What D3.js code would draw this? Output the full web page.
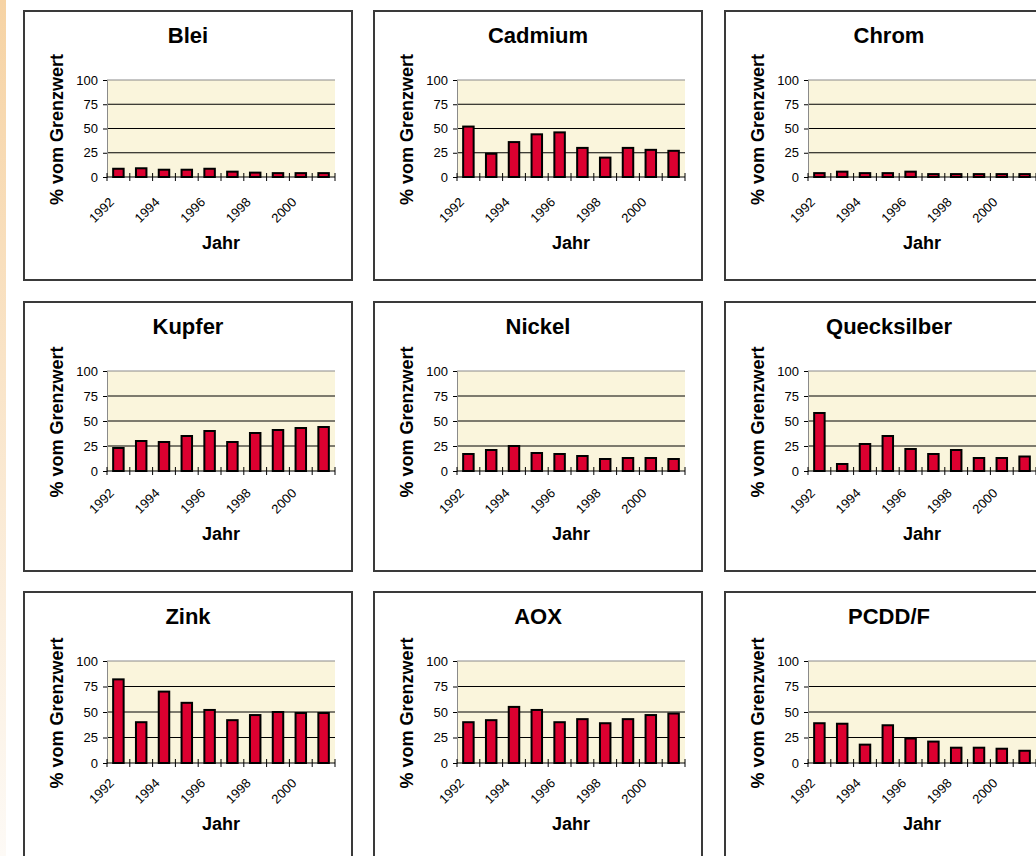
<!DOCTYPE html>
<html>
<head>
<meta charset="utf-8">
<script src="https://cdn.jsdelivr.net/npm/d3@7"></script>
<style>
  body { margin: 0; background: #fff; }
  svg { display: block; font-family: "Liberation Sans", Arial, sans-serif; }
</style>
</head>
<body>
<svg id="chart" width="1036" height="856"></svg>
<script>
// years on the x axis, only every other one gets a label
const YEARS = [1992, 1993, 1994, 1995, 1996, 1997, 1998, 1999, 2000, 2001];
const YEAR_LABELS = [1992, 1994, 1996, 1998, 2000];
const Y_TICKS = [0, 25, 50, 75, 100];

const TITLES = ['Blei', 'Cadmium', 'Chrom', 'Kupfer', 'Nickel', 'Quecksilber', 'Zink', 'AOX', 'PCDD/F'];

// % vom Grenzwert
const blei = [8.5, 9, 7.5, 7.5, 8.5, 5.5, 4.5, 4, 4, 4];
const cadmium = [52, 24, 36, 44, 46, 30, 20, 30, 28, 27];
const chrom = [4, 5.5, 4, 4, 5.5, 3, 3, 3, 3, 3];
const kupfer = [23, 30, 29, 35, 40, 29, 38, 41, 43, 44];
const nickel = [17, 21, 25, 18, 17, 15, 12, 13, 13, 12];
const quecksilber = [58, 7, 27, 35, 22, 17, 21, 13, 13, 14.5];
const zink = [82, 40, 70, 59, 52, 42, 47, 50, 49, 49];
const aox = [40, 42, 55, 52, 40, 43, 39, 43, 47, 48.5];
const pcdd = [39, 38.5, 18, 37, 24, 21, 15, 15, 14, 12];

const SERIES = [blei, cadmium, chrom, kupfer, nickel, quecksilber, zink, aox, pcdd];

const Y_LABEL = '% vom Grenzwert';
const X_LABEL = 'Jahr';

// layout
const boxW = 328;
const boxH = 269;
const colX = [24, 374, 725];
const rowY = [11, 302, 592];
const plotLeft = 83;
const plotW = 228;
const plotTop = 69;
const plotBottom = [166, 169, 171];
const barColor = '#dc0030';
const plotBg = '#faf5dc';
const tickFont = '13px';

const svg = d3.select('#chart');

// orange strip on the left edge
const grad = svg.append('defs').append('linearGradient')
  .attr('id', 'strip')
  .attr('x1', 0).attr('y1', 0).attr('x2', 0).attr('y2', 1);
grad.append('stop').attr('offset', '0%').attr('stop-color', '#f6d3a4');
grad.append('stop').attr('offset', '100%').attr('stop-color', '#fdfaf6');
svg.append('rect')
  .attr('x', 0).attr('y', 0)
  .attr('width', 6).attr('height', 856)
  .attr('fill', 'url(#strip)');

const x = d3.scaleBand()
  .domain(YEARS)
  .range([0, plotW]);

TITLES.forEach((title, i) => {
  const col = i % 3;
  const row = Math.floor(i / 3);
  const values = SERIES[i];
  const ph = plotBottom[row] - plotTop;

  const y = d3.scaleLinear()
    .domain([0, 100])
    .range([ph, 0]);

  const box = svg.append('g')
    .attr('transform', `translate(${colX[col]},${rowY[row]})`);

  box.append('rect')
    .attr('x', 0).attr('y', 0)
    .attr('width', boxW).attr('height', boxH)
    .attr('fill', '#fff')
    .attr('stroke', '#3a3a3a')
    .attr('stroke-width', 2);

  box.append('text')
    .attr('x', boxW / 2)
    .attr('y', 32)
    .attr('text-anchor', 'middle')
    .style('font-size', '22px')
    .style('font-weight', 'bold')
    .text(title);

  box.append('text')
    .attr('transform', `translate(39,${plotTop + ph / 2 + 1}) rotate(-90)`)
    .attr('text-anchor', 'middle')
    .style('font-size', '18px')
    .style('font-weight', 'bold')
    .text(Y_LABEL);

  box.append('text')
    .attr('x', plotLeft + plotW / 2)
    .attr('y', 238)
    .attr('text-anchor', 'middle')
    .style('font-size', '18px')
    .style('font-weight', 'bold')
    .text(X_LABEL);

  const plot = box.append('g')
    .attr('transform', `translate(${plotLeft},${plotTop})`);

  plot.append('rect')
    .attr('width', plotW)
    .attr('height', ph)
    .attr('fill', plotBg);

  // gridlines
  plot.selectAll('.grid')
    .data(Y_TICKS.slice(1))
    .enter()
    .append('line')
    .attr('x1', 0).attr('x2', plotW)
    .attr('y1', (d) => y(d)).attr('y2', (d) => y(d))
    .attr('stroke', (d) => (d === 100 ? '#8a8a8a' : '#000'))
    .attr('stroke-width', 1);

  // y axis
  const yAxis = plot.append('g')
    .call(d3.axisLeft(y).tickValues(Y_TICKS).tickSize(4).tickPadding(5));
  yAxis.attr('font-size', null).attr('font-family', null);
  yAxis.select('.domain').attr('stroke', '#8a8a8a');
  yAxis.selectAll('.tick line').attr('stroke', '#000');
  yAxis.selectAll('text')
    .style('font-size', tickFont)
    .attr('fill', '#000');

  // bars
  const barW = x.bandwidth() * 0.46;
  plot.selectAll('.bar')
    .data(YEARS)
    .enter()
    .append('rect')
    .attr('x', (d) => x(d) + (x.bandwidth() - barW) / 2)
    .attr('y', (d, j) => y(values[j]))
    .attr('width', barW)
    .attr('height', (d, j) => y(0) - y(values[j]))
    .attr('fill', barColor)
    .attr('stroke', '#000')
    .attr('stroke-width', 2);

  // x axis line with ticks between categories
  plot.append('line')
    .attr('x1', 0).attr('x2', plotW)
    .attr('y1', y(0)).attr('y2', y(0))
    .attr('stroke', '#000');
  plot.selectAll('.xtick')
    .data(YEARS.concat(['end']))
    .enter()
    .append('line')
    .attr('x1', (d) => (d === 'end' ? plotW : x(d)))
    .attr('x2', (d) => (d === 'end' ? plotW : x(d)))
    .attr('y1', y(0) - 4)
    .attr('y2', y(0) + 4)
    .attr('stroke', '#000');

  // rotated year labels
  box.selectAll('.year')
    .data(YEAR_LABELS)
    .enter()
    .append('text')
    .attr('transform', (d) => `translate(${plotLeft + x(d) + x.bandwidth() / 2 - 3.5},192) rotate(-45)`)
    .attr('text-anchor', 'end')
    .style('font-size', tickFont)
    .text((d) => d);
});
</script>
</body>
</html>
